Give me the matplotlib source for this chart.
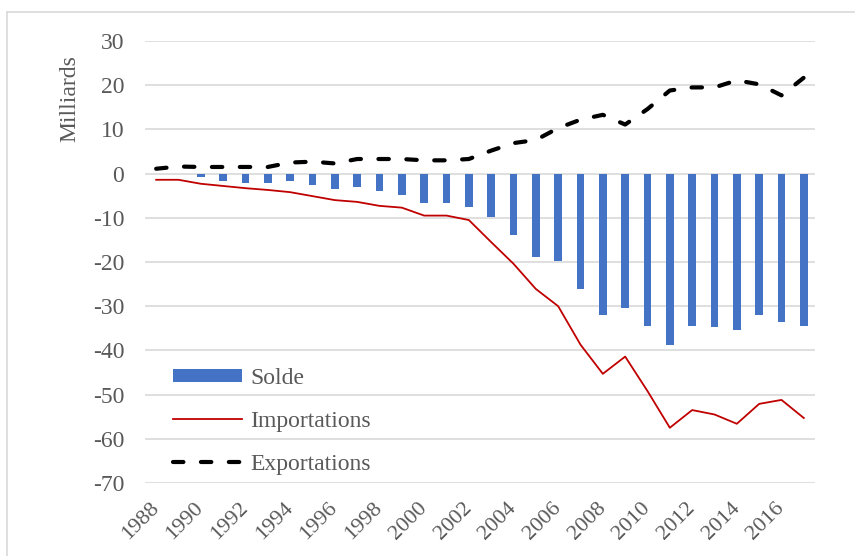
import matplotlib
matplotlib.use("Agg")
import matplotlib.pyplot as plt
from matplotlib.lines import Line2D

plt.rcParams["font.family"] = ["Liberation Serif", "DejaVu Serif"]

years = list(range(1988, 2018))
solde = [-0.2, -0.2, -0.8, -1.7, -2.1, -2.1, -1.7, -2.6, -3.5, -3.0,
         -3.9, -4.8, -6.7, -6.7, -7.5, -9.8, -13.8, -18.9, -19.8, -26.1,
         -32.1, -30.3, -34.4, -38.8, -34.4, -34.8, -35.3, -32.1, -33.5, -34.4]
importations = [-1.4, -1.4, -2.3, -2.8, -3.3, -3.7, -4.2, -5.1, -6.0, -6.4,
                -7.3, -7.7, -9.5, -9.5, -10.5, -15.5, -20.4, -26.1, -30.0, -38.7,
                -45.3, -41.4, -49.2, -57.5, -53.5, -54.5, -56.6, -52.1, -51.2, -55.3]
exportations = [1.1, 1.6, 1.5, 1.5, 1.5, 1.5, 2.5, 2.7, 2.3, 3.3,
                3.3, 3.3, 3.0, 3.0, 3.3, 5.2, 6.9, 7.6, 10.3, 12.2,
                13.3, 11.1, 14.6, 18.8, 19.5, 19.5, 21.1, 20.2, 17.7, 21.7]
yticks = list(range(-70, 31, 10))

grey = "#595959"
fs = 17

fig = plt.figure(figsize=(8.55, 5.56), dpi=100)
ax = fig.add_axes([145 / 855, 1 - 483 / 556, 670 / 855, 442 / 556])

x = list(range(len(years)))
b = ax.bar(x, solde, width=0.35, color="#4472C4", label="Solde", zorder=2)
li, = ax.plot(x, importations, color="#C00000", lw=1.3, label="Importations", zorder=3)
le, = ax.plot(x, exportations, color="black", lw=3, dashes=(2.5, 4.2),
              dash_capstyle="round", label="Exportations", zorder=3)

ax.set_xlim(-0.5, len(years) - 0.5)
ax.set_ylim(-70, 30)
ax.set_yticks(yticks)
ax.set_yticklabels([str(v) for v in yticks], fontsize=fs, color=grey)
ax.grid(axis="y", color="#D9D9D9", lw=1.2, zorder=0)
ax.set_axisbelow(True)
for s in ax.spines.values():
    s.set_visible(False)
ax.tick_params(axis="y", length=0, pad=15)
ax.tick_params(axis="x", length=0, pad=16)

ax.set_xticks(x[::2])
ax.set_xticklabels([str(y) for y in years[::2]], rotation=45, ha="right",
                   va="center", rotation_mode="anchor", fontsize=16, color=grey)

fig.text(70 / 855, 1 - 99 / 556, "Milliards", rotation=90, ha="center",
         va="center", fontsize=fs, color=grey)

leg = ax.legend([b, li, le], ["Solde", "Importations", "Exportations"],
                loc="upper left", bbox_to_anchor=(0.042, 0.261), frameon=False,
                fontsize=fs, handlelength=2.9, handleheight=0.5, handletextpad=0.35,
                labelspacing=0.93, borderpad=0, borderaxespad=0)
for t in leg.get_texts():
    t.set_color(grey)

# outer chart frame (only left and top edges are visible)
fig.add_artist(Line2D([7 / 855, 7 / 855], [0, 1 - 12 / 556], color="#D9D9D9", lw=1.2))
fig.add_artist(Line2D([7 / 855, 1], [1 - 12 / 556, 1 - 12 / 556], color="#D9D9D9", lw=1.2))

fig.savefig("out.png", dpi=100)
